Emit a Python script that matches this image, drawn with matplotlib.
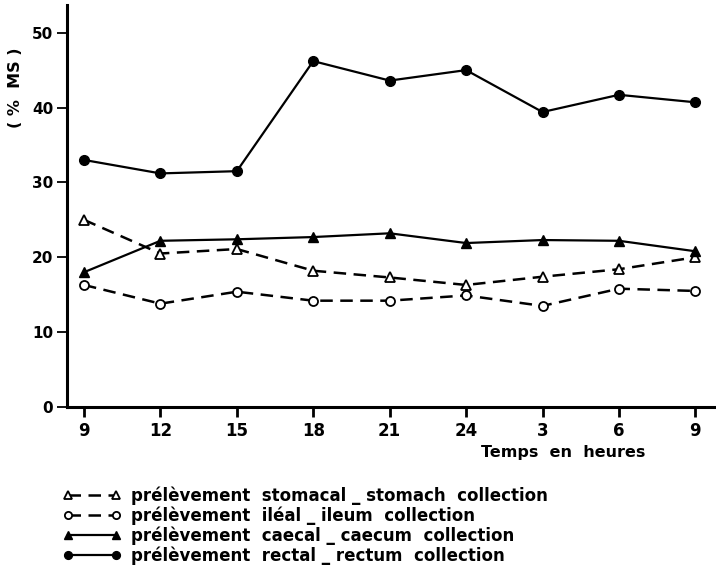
import numpy as np
import matplotlib
matplotlib.use("Agg")
import matplotlib.pyplot as plt

# Data (% MS)
hours = ['9', '12', '15', '18', '21', '24', '3', '6', '9']
stomach = [25.0, 20.5, 21.1, 18.2, 17.3, 16.3, 17.4, 18.4, 20.0]
ileum = [16.3, 13.8, 15.4, 14.2, 14.2, 14.9, 13.5, 15.8, 15.5]
caecum = [18.0, 22.2, 22.4, 22.7, 23.2, 21.9, 22.3, 22.2, 20.8]
rectum = [33.0, 31.2, 31.5, 46.2, 43.6, 45.0, 39.4, 41.7, 40.7]

labels = ["prélèvement  stomacal _ stomach  collection",
          "prélèvement  iléal _ ileum  collection",
          "prélèvement  caecal _ caecum  collection",
          "prélèvement  rectal _ rectum  collection"]

plt.rcParams['font.family'] = 'DejaVu Sans'
plt.rcParams['font.weight'] = 'bold'

fig = plt.figure(figsize=(7.16, 5.85), dpi=100)
ax = fig.add_axes([0.0936, 0.3043, 0.9064, 0.6872])

x = np.arange(len(hours))
dash = (0, (5, 3))
l1, = ax.plot(x, stomach, color='black', lw=1.8, ls=dash, marker='^', ms=6.5,
              mfc='white', mec='black', mew=1.3)
l2, = ax.plot(x, ileum, color='black', lw=1.8, ls=dash, marker='o', ms=6.5,
              mfc='white', mec='black', mew=1.3)
l3, = ax.plot(x, caecum, color='black', lw=1.6, marker='^', ms=6.5,
              mfc='black', mec='black')
l4, = ax.plot(x, rectum, color='black', lw=1.6, marker='o', ms=7,
              mfc='black', mec='black')

ax.set_xlim(-0.222, 8.27)
ax.set_ylim(0, 53.7)
ax.set_xticks(x)
ax.set_xticklabels(hours, fontsize=12)
ax.set_yticks([0, 10, 20, 30, 40, 50])
ax.set_yticklabels(['0', '10', '20', '30', '40', '50'], fontsize=11)

for s in ['top', 'right']:
    ax.spines[s].set_visible(False)
for s in ['left', 'bottom']:
    ax.spines[s].set_linewidth(2.2)
ax.tick_params(axis='x', length=7, width=2, pad=4)
ax.tick_params(axis='y', length=7, width=1.3, pad=3)

ax.text(0.764, -0.112, "Temps  en  heures", transform=ax.transAxes,
        ha='center', va='center', fontsize=11.5)
ax.text(-0.080, 0.794, "( %  MS )", transform=ax.transAxes, rotation=90,
        ha='center', va='center', fontsize=11.5)

leg = fig.legend([l1, l2, l3, l4], labels, loc='upper left',
                 bbox_to_anchor=(0.088, 0.168), frameon=False, numpoints=2,
                 handlelength=3.5, handletextpad=0.55, labelspacing=0.08,
                 fontsize=12, markerscale=0.8, borderaxespad=0, borderpad=0)

fig.savefig("out.png", dpi=100)
